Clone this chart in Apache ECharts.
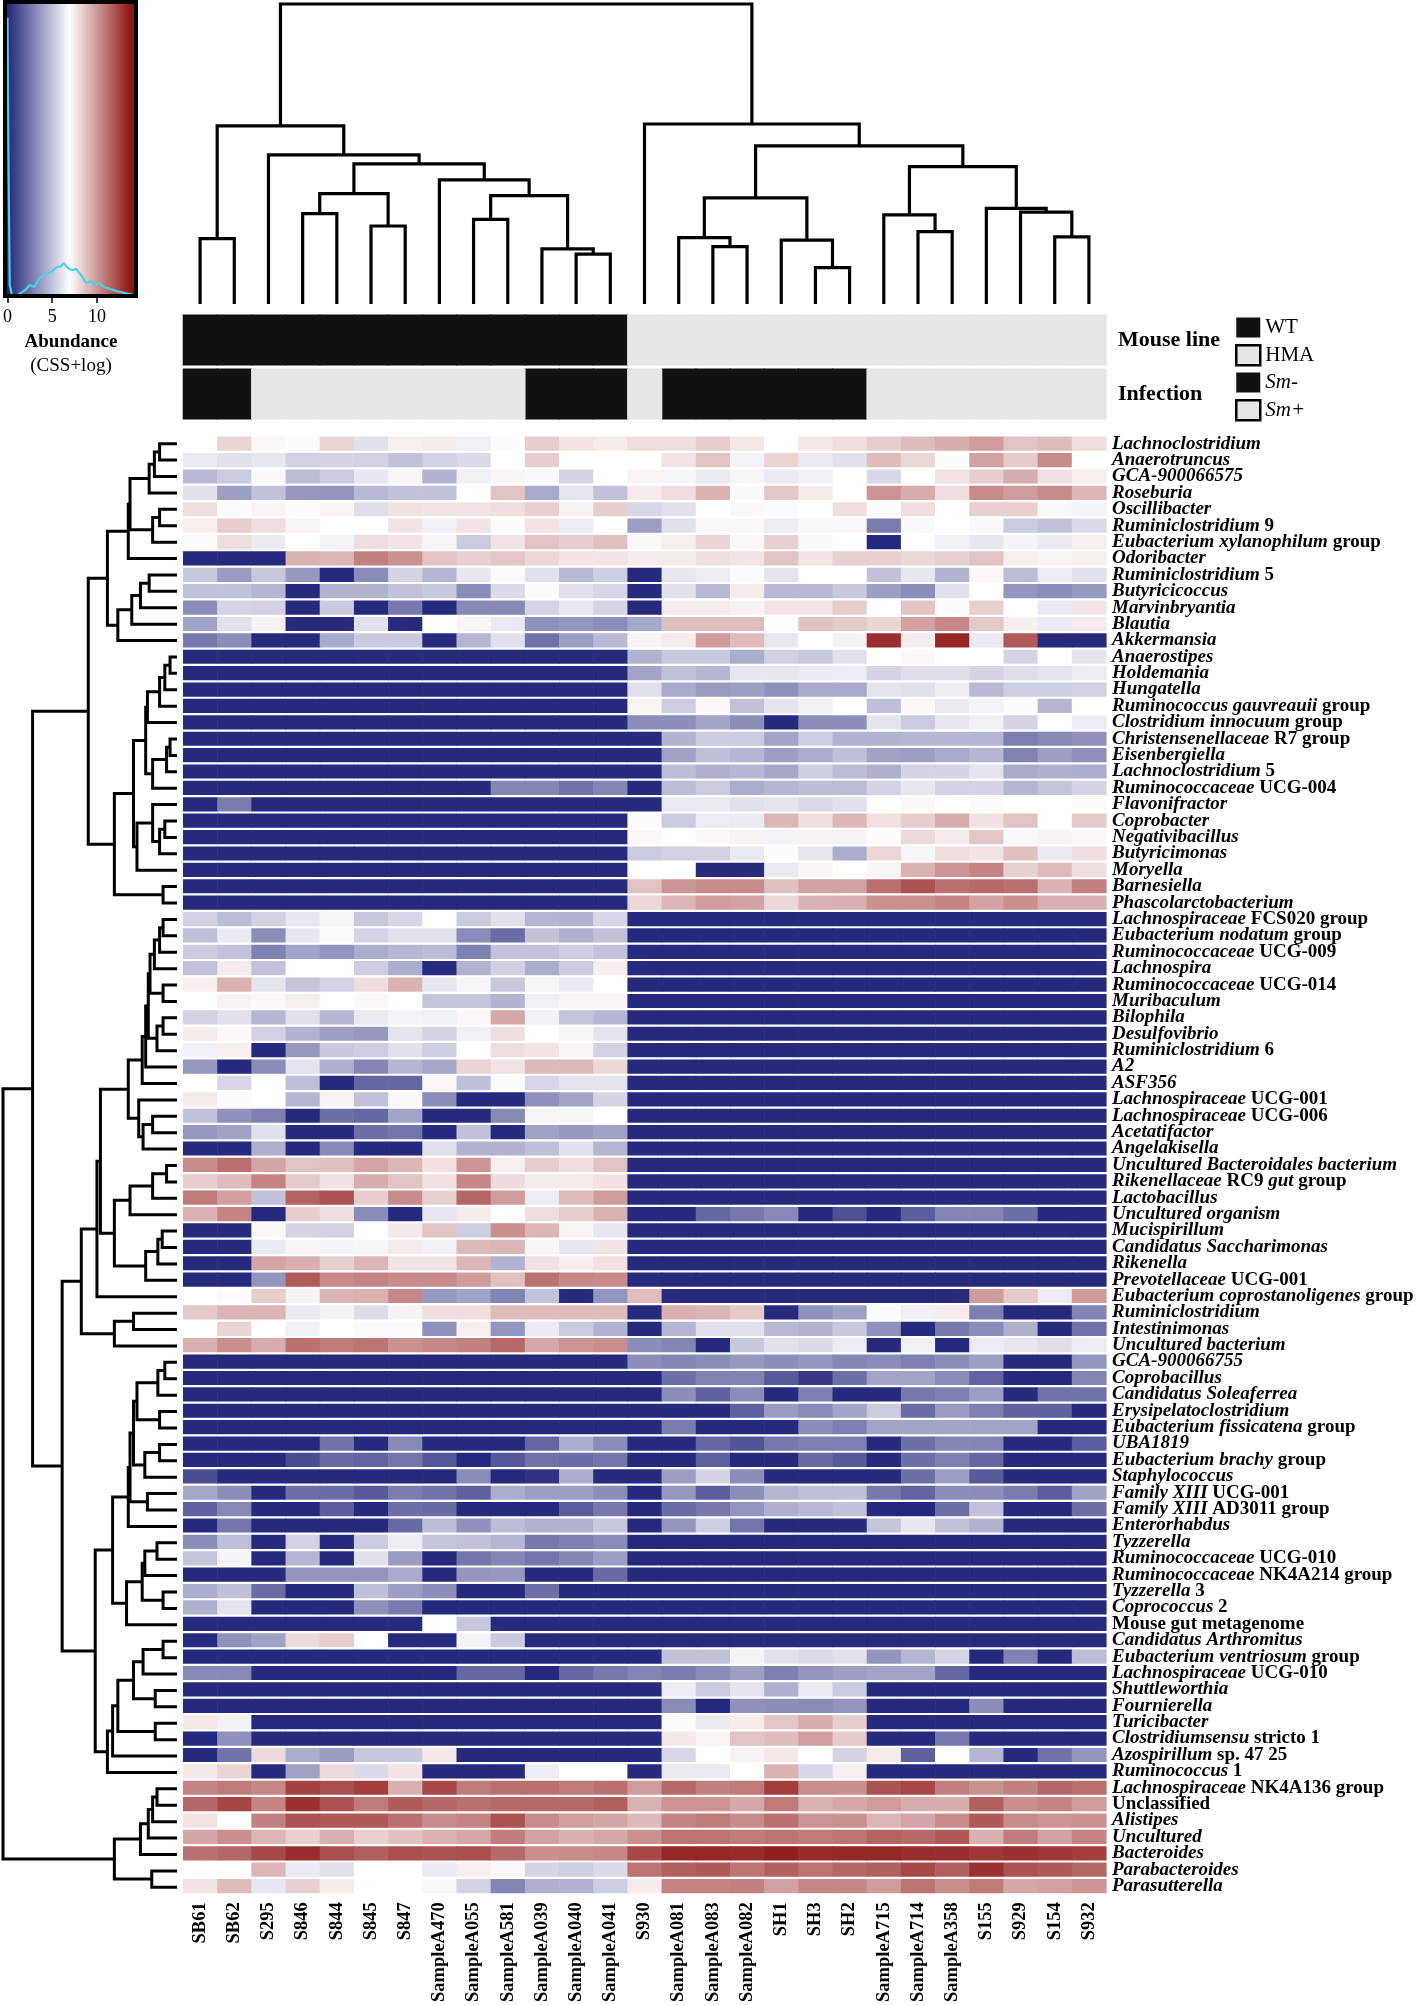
<!DOCTYPE html>
<html><head><meta charset="utf-8">
<script src="https://cdn.jsdelivr.net/npm/echarts@6/dist/echarts.min.js"></script>
<style>html,body{margin:0;padding:0;background:#fff}#c{width:1417px;height:2005px}</style>
</head><body><div id="c"></div>
<script>
// ---------------- data ----------------
const samples = ['SB61','SB62','S295','S846','S844','S845','S847','SampleA470','SampleA055','SampleA581','SampleA039','SampleA040','SampleA041','S930','SampleA081','SampleA083','SampleA082','SH1','SH3','SH2','SampleA715','SampleA714','SampleA358','S155','S929','S154','S932'];
const mouseLine = ['WT','WT','WT','WT','WT','WT','WT','WT','WT','WT','WT','WT','WT','HMA','HMA','HMA','HMA','HMA','HMA','HMA','HMA','HMA','HMA','HMA','HMA','HMA','HMA'];
const infection = ['Sm-','Sm-','Sm+','Sm+','Sm+','Sm+','Sm+','Sm+','Sm+','Sm+','Sm-','Sm-','Sm-','Sm+','Sm-','Sm-','Sm-','Sm-','Sm-','Sm-','Sm+','Sm+','Sm+','Sm+','Sm+','Sm+','Sm+'];
const annotationRows = ['Mouse line','Infection'];
const taxa = ['Lachnoclostridium','Anaerotruncus','GCA-900066575','Roseburia','Oscillibacter','Ruminiclostridium 9','Eubacterium xylanophilum group','Odoribacter','Ruminiclostridium 5','Butyricicoccus','Marvinbryantia','Blautia','Akkermansia','Anaerostipes','Holdemania','Hungatella','Ruminococcus gauvreauii group','Clostridium innocuum group','Christensenellaceae R7 group','Eisenbergiella','Lachnoclostridium 5','Ruminococcaceae UCG-004','Flavonifractor','Coprobacter','Negativibacillus','Butyricimonas','Moryella','Barnesiella','Phascolarctobacterium','Lachnospiraceae FCS020 group','Eubacterium nodatum group','Ruminococcaceae UCG-009','Lachnospira','Ruminococcaceae UCG-014','Muribaculum','Bilophila','Desulfovibrio','Ruminiclostridium 6','A2','ASF356','Lachnospiraceae UCG-001','Lachnospiraceae UCG-006','Acetatifactor','Angelakisella','Uncultured Bacteroidales bacterium','Rikenellaceae RC9 gut group','Lactobacillus','Uncultured organism','Mucispirillum','Candidatus Saccharimonas','Rikenella','Prevotellaceae UCG-001','Eubacterium coprostanoligenes group','Ruminiclostridium','Intestinimonas','Uncultured bacterium','GCA-900066755','Coprobacillus','Candidatus Soleaferrea','Erysipelatoclostridium','Eubacterium fissicatena group','UBA1819','Eubacterium brachy group','Staphylococcus','Family XIII UCG-001','Family XIII AD3011 group','Enterorhabdus','Tyzzerella','Ruminococcaceae UCG-010','Ruminococcaceae NK4A214 group','Tyzzerella 3','Coprococcus 2','Mouse gut metagenome','Candidatus Arthromitus','Eubacterium ventriosum group','Lachnospiraceae UCG-010','Shuttleworthia','Fournierella','Turicibacter','Clostridiumsensu stricto 1','Azospirillum sp. 47 25','Ruminococcus 1','Lachnospiraceae NK4A136 group','Unclassified','Alistipes','Uncultured','Bacteroides','Parabacteroides','Parasutterella'];

// abundance (CSS + log), one row per taxon, one column per sample
const abundance = [
[7,8.3,7.2,7.1,8.3,6,7.5,7.6,6.5,7.1,8.5,7.8,7.6,8,8,8.5,7.7,7,7.7,8,8.5,9,9.5,10,8.8,9,8],
[6.3,6,6.2,5.5,5.6,5.5,5,5.5,5.8,7,8.5,7,7,7,7.8,8.8,6.6,8.3,6.3,6,9,8.2,7.1,9.8,8.6,10.5,7],
[4.7,5.3,7.2,4.8,5.3,6.2,6.7,4.5,6.5,7.3,6.8,5.6,7,7.3,6.7,6.3,6.7,6.3,6.5,7,5.7,7,7.8,8.5,9.5,7.9,7.5],
[6,3.8,5,3.6,3.5,4.7,5,5,7,8.8,4.2,6.2,5,7.6,8,9.3,6.8,8.7,7.6,7,10.2,9.5,8,10.5,10,10.5,9.2],
[8,7.1,7.3,7.1,7.3,5.9,7.9,7.8,7.8,8,8.4,7.4,8.5,5.7,6,7,7.2,6.9,7,8,6.9,8,7,8.4,8.4,6.8,6.6],
[7.5,8.5,8,7.3,7,7,7.8,6.5,7.8,7.1,7.8,6.4,7,3.8,6,7.2,7.2,6.4,6.8,7.2,2.7,6.8,7,6.8,5.3,5,5.8],
[6.9,8,6.3,7,6.6,8,7.8,7.3,5.3,7.8,8.8,8.5,8.9,6.8,7.5,8.3,7.2,8.4,6.8,7,0,7,6.5,6.2,6.6,6.3,7.5],
[0,0,0,9.3,9.2,10.8,10.3,8.8,8.4,8.7,8.2,7.8,7.8,7.6,7.6,8,7.8,8.8,7.8,8.4,8.4,8.2,8.4,8.8,7.5,7.3,7.5],
[5.2,3.7,5.2,3.6,0,3.2,5.6,4.6,6.2,6.9,6,4.7,5.4,0,6.2,6.4,6.9,6.1,7,7,5,6.2,4.5,7.2,4.8,6.4,6],
[5,5,4.6,0,4.5,4.5,5,5.2,3.2,5.8,6.9,6,5.7,0,6,4.7,7.6,4.7,4.7,5.2,3.8,3.3,6,7,3.5,3.3,3.6],
[3.3,5.6,5.5,0,5.3,0,2.6,0,3.1,3.1,5.6,6.2,5.6,0,7.6,7.6,7.4,7.8,7.8,8.5,7,8.7,7.1,8.4,7,6.3,7.8],
[4,6,7.4,0,0,6,0,7,7.3,6.3,3.4,3.5,3.3,4.2,9,9,9,7,8.8,8.6,8.2,9.8,10.6,8.6,7.5,6.3,7.6],
[2.6,3.3,0,0,4.2,5.3,5.3,0,4.6,6,2.4,3.8,4.7,7.3,7.6,10,9,6.2,7,6.6,13.3,7.6,13.5,6.3,12,0,0],
[0,0,0,0,0,0,0,0,0,0,0,0,0,4.5,5.2,5.2,4.3,5.5,5.2,6,7,7.2,7,7,5.6,7,6.1],
[0,0,0,0,0,0,0,0,0,0,0,0,0,4,5,4.6,6.2,6.2,6.3,6.4,5.6,5.9,5.9,5.6,5.9,6.1,6.4],
[0,0,0,0,0,0,0,0,0,0,0,0,0,6,4.2,3.7,3.8,3.4,4.2,4.2,6.1,6,6.4,4.7,5.4,5.4,5.5],
[0,0,0,0,0,0,0,0,0,0,0,0,0,7.3,5.4,7.2,5,6.1,6.5,7,4.9,7.2,6.3,6.6,6.9,4.6,7],
[0,0,0,0,0,0,0,0,0,0,0,0,0,3.3,3.3,4,3.3,0,3.3,3.3,6.1,5.3,6.2,6.5,5.6,7,6.4],
[0,0,0,0,0,0,0,0,0,0,0,0,0,0,4.5,5.3,5.3,4,5.4,4.5,4.5,4.6,4.6,4.6,2.8,3.1,3.4],
[0,0,0,0,0,0,0,0,0,0,0,0,0,0,3.9,4.9,4.6,3.8,4.3,4.9,3.9,3.8,4.2,4.6,2.9,3.8,3.4],
[0,0,0,0,0,0,0,0,0,0,0,0,0,0,4.8,4.4,4.6,4.1,5.4,4.8,4.4,5.6,5.6,6.1,4.2,4.4,4.3],
[0,0,0,0,0,0,0,0,0,3,3,2.4,3,0,4.8,5.3,4.3,4.6,4.8,4.8,5.6,6.2,5.6,5.6,4.6,5.1,5.6],
[0,2.7,0,0,0,0,0,0,0,0,0,0,0,0,6.3,6.3,6,6.1,5.8,6,7,7.2,7,7.1,7,7,6.9],
[0,0,0,0,0,0,0,0,0,0,0,0,0,7.1,5.3,6.4,6.3,9.2,8,9.2,7.9,8.5,9.5,7.9,8.8,7,8.6],
[0,0,0,0,0,0,0,0,0,0,0,0,0,7.2,7,7.2,7.4,6.6,7.4,7.4,7.1,8.1,7.6,8.7,6.8,7.4,7.2],
[0,0,0,0,0,0,0,0,0,0,0,0,0,5.3,5.5,5.5,6.3,6.9,6.2,4.3,8.2,6.7,8,7.8,8.9,6.3,8],
[0,0,0,0,0,0,0,0,0,0,0,0,0,7,7,0,0,6.3,7.3,7,7.3,9.3,10.2,10.7,8.4,9,8],
[0,0,0,0,0,0,0,0,0,0,0,0,0,8.8,10.2,10.5,10.5,8.9,9.8,9.8,11.3,12.2,11.3,11.5,11.3,9.3,10.8],
[0,0,0,0,0,0,0,0,0,0,0,0,0,8.2,9.2,10,9.8,8.2,9.3,9.4,10.3,10.3,10.7,9.8,10.4,9.4,9.4],
[5.5,4.8,5.5,6.2,6.7,5.2,5.7,7,5.3,6,4.6,4.5,5.7,0,0,0,0,0,0,0,0,0,0,0,0,0,0],
[4.9,6.3,3.3,6.2,6.9,5.6,6,6,3.2,2.2,5,4.4,5,0,0,0,0,0,0,0,0,0,0,0,0,0,0],
[5.3,5,2.9,4,3.5,4.3,4.6,4.8,2.9,5,5,5.4,5,0,0,0,0,0,0,0,0,0,0,0,0,0,0],
[5,7.6,5,7,7,5.4,4.3,0,4.5,5.5,4.3,5.3,7.5,0,0,0,0,0,0,0,0,0,0,0,0,0,0],
[7.5,9.3,6.1,5.1,5.6,8,9.3,6.2,6.7,5.2,6.7,6.3,7,0,0,0,0,0,0,0,0,0,0,0,0,0,0],
[7,7.4,7.2,7.5,7,7.2,7,5.1,5.1,4.5,6.5,7.3,7.3,0,0,0,0,0,0,0,0,0,0,0,0,0,0],
[5.5,6,4.6,6,4.6,6.3,6.6,6.5,7.2,9.6,6.5,5.1,4.6,0,0,0,0,0,0,0,0,0,0,0,0,0,0],
[7.6,7.2,5.5,4.5,3.8,3.6,6.1,5.6,6.5,8,7,6.7,6.1,0,0,0,0,0,0,0,0,0,0,0,0,0,0],
[6.5,7.5,0,3.6,5.2,5.4,6,5.4,7,8,7.8,7.3,5.5,0,0,0,0,0,0,0,0,0,0,0,0,0,0],
[3.6,0,3.2,6.1,4.4,3,4.6,4.1,8.3,7.8,9.1,9.1,8.2,0,0,0,0,0,0,0,0,0,0,0,0,0,0],
[7,5.7,7,4.9,0,2,2,7.2,4.9,7.1,5.7,6.1,6.1,0,0,0,0,0,0,0,0,0,0,0,0,0,0],
[7.6,6.9,7,4.6,7.4,5,6.8,3.2,0,0,3.4,4,5.6,0,0,0,0,0,0,0,0,0,0,0,0,0,0],
[5,3.4,2.8,0,2.3,2,4,0,0,3.1,6.7,6.7,7,0,0,0,0,0,0,0,0,0,0,0,0,0,0],
[3.6,3.9,6,0,0,2.3,2.5,0,5,0,3.9,3.6,3.9,0,0,0,0,0,0,0,0,0,0,0,0,0,0],
[0,0,4.4,0,3.1,0,0,6,4.5,4.5,4.9,6,4.6,0,0,0,0,0,0,0,0,0,0,0,0,0,0],
[10.5,11.3,9.7,8.8,8.9,9.7,9.2,7.9,10.2,7.5,8.5,8,8.8,0,0,0,0,0,0,0,0,0,0,0,0,0,0],
[8.5,9,10.7,8.6,7.9,9.5,8.8,7.9,10.6,8.1,7.6,7.6,7.9,0,0,0,0,0,0,0,0,0,0,0,0,0,0],
[11,9.9,5,11.7,12.2,8.5,10.5,8.4,11.6,10,6.4,9,10,0,0,0,0,0,0,0,0,0,0,0,0,0,0],
[9.3,10.7,0,8.5,8,3.2,0,6.2,7.6,7,8,8.5,9.3,0,0,2,2.6,3.1,0,1.3,0,1.7,3,3,2.3,0,0],
[0,0,7.2,5.6,5.5,7,7.7,8.8,5.4,10.4,9.2,7.3,6.2,0,0,0,0,0,0,0,0,0,0,0,0,0,0],
[0,0,6.3,7.3,6.6,6.7,7.6,6.5,9.1,9.2,7.3,6.2,7.8,0,0,0,0,0,0,0,0,0,0,0,0,0,0],
[0,0,9.7,9.4,8.4,9.2,7.8,7.8,9.2,4.5,7.9,7.5,7.9,0,0,0,0,0,0,0,0,0,0,0,0,0,0],
[0,0,3.5,12,10.5,10.7,10.5,10.5,10,8.9,11.2,10.6,10.5,0,0,0,0,0,0,0,0,0,0,0,0,0,0],
[7,7.1,8.5,7.4,9.2,9.3,10.6,3.6,3.9,3,5,0,3.5,9,0,0,0,0,0,0,0,0,0,10,8.6,6.4,10],
[8.6,9.2,9.2,6.3,6.6,5.9,7.4,8,8,9,9,9,9,0,9.4,9.2,8.6,0,3.4,3.9,7.1,6.5,7.6,2.8,0,0,3],
[7,8.3,7,6.5,7,6.9,6.9,3.4,7.5,3.5,6.3,5.3,4.5,0,4.6,6,6,4.7,4.5,5.2,3.4,0,2.6,3.2,4.4,0,2.4],
[9.4,10.4,9.5,11.3,11,11.2,10.3,10.6,10.8,11.5,9.6,10.2,10.4,3.3,3,0,5.2,6,5.8,6.4,0,6.5,0,6.4,6.2,5.9,6.4],
[0,0,0,0,0,0,0,0,0,0,0,0,0,3.3,3,3.3,3.6,3.3,3.5,3,3.2,2.8,3.3,3.8,0,0,3.5],
[0,0,0,0,0,0,0,0,0,0,0,0,0,0,2.3,2.9,2.9,1.6,0.5,2.3,4,4,3.2,1.9,0,0,3],
[0,0,0,0,0,0,0,0,0,0,0,0,0,0,3.3,1.8,3.2,0,2.8,0,0,2.6,2.8,3.8,0,2.4,2.4],
[0,0,0,0,0,0,0,0,0,0,0,0,0,0,0,0,1.8,3.7,3.2,4,5.3,2.2,3.7,2.8,1.8,1.8,0],
[0,0,0,0,0,0,0,0,0,0,0,0,0,0,2.7,0,0,0,3.3,2.8,4,4,4,4,4,0,0],
[0,0,0,0,2.4,0,3.1,0,0,0,2,4.3,3.2,0,0,2,1.4,2.6,2.8,2.8,0,2.3,3,3,0,0,1.7],
[0,0,0,1.2,2.1,1.9,2.5,1.5,0,1.5,2.4,2.2,2.5,0,0,1.8,0,0,2.1,1.6,0,2.3,2.8,2,0,0,0],
[1.2,0,0,0,0,0,0,0,3.2,0,0.3,4.3,0,0,3.8,5.6,3.3,0,0,0,0,2.3,3.8,1.6,0,0,0],
[4.1,3.3,0,2.3,2.2,1.6,2.7,2.4,1.8,4.3,3.8,3.8,3.3,0,3.6,1.7,3.3,4.6,4.9,4.9,2.6,1.9,3.3,3.3,2.7,1.7,3.9],
[1.8,3.1,0,0,1.7,0,2.3,2.1,0,0,0,1.7,2.6,0,2.2,2.6,3.5,4.4,4.7,5,0,0,2.3,5,0,0,2.3],
[0,2.5,0,0,0,0,2.1,4.8,3.4,4.8,4.5,4.5,5.2,0,3.5,5.4,2.5,0,0,0,5.1,6.2,5,4.5,0,0,0],
[3.3,4.9,0,5.5,0,5.3,6.4,5.1,5,4.6,2.6,2.8,3.2,0,0,0,0,0,0,0,0,0,0,0,0,0,0],
[5.1,6.6,0,4.6,0,6,3.7,0,2.5,3,2.5,3,3.8,0,0,0,0,0,0,0,0,0,0,0,0,0,0],
[0,0,0,3.5,3.5,3.5,4.2,0,3.5,3.6,0,0,2.1,0,0,0,0,0,0,0,0,0,0,0,0,0,0],
[4.3,4.9,2.2,0,0,4.9,3.8,3.3,0,0,2.3,0,0,0,0,0,0,0,0,0,0,0,0,0,0,0,0],
[4.4,6.1,0,0,0,3.4,2.7,0,0,0,0,0,0,0,0,0,0,0,0,0,0,0,0,0,0,0,0],
[0,0,0,0,0,0,0,7,5.2,0,0,0,0,0,0,0,0,0,0,0,0,0,0,0,0,0,0],
[0,3.4,3.9,8.1,8.5,7,0,0,6.6,5.3,0,0,0,0,0,0,0,0,0,0,0,0,0,0,0,0,0],
[0,0,0,0,0,0,0,0,0,0,0,0,0,0,5,5,6.6,6,5.8,6,3.5,4.6,5.6,0,2.9,0,4.8],
[3.1,3.1,0,0,0,0,0,0,2,2,0,2,2.6,3,2.7,3.3,3.8,2.8,3.5,3.8,4,4,2,0,0,0,0],
[0,0,0,0,0,0,0,0,0,0,0,0,0,0,6.4,5.3,6.1,4.4,6.3,5.3,0,0,0,0,0,0,0],
[0,0,0,0,0,0,0,0,0,0,0,0,0,0,3.2,0,3.4,3.3,3.2,3.5,0,0,0,3.3,0,0,0],
[7.7,6.5,0,0,0,0,0,0,0,0,0,0,0,0,7.1,6.3,7.6,8.7,9.5,8.5,0,0,0,0,0,0,0],
[0,3.4,0,0,0,0,0,0,0,0,0,0,0,0,7.7,7.3,8.8,9,9.9,8.6,0,0,2.6,0,0,0,0],
[0,2.4,8.1,4.3,3.7,5.2,5.2,7.7,0,0,0,0,0,0,5.7,7,7.4,7.7,7,5.6,7.6,1.8,7,4.6,0,2.4,3.5],
[7.7,8.3,0,3.9,8.1,5.8,7.8,0,0,0,6.4,7,7,0,6.3,6.3,7,9.3,5.7,7.5,0,0,0,0,0,0,0],
[10.7,11,10.6,12.7,12.3,12.8,9.4,12.5,11,11.3,11.3,11,11.3,10,11.5,10.8,11,12.8,10.4,10.4,12.2,12.5,10.8,10.3,10.8,11.6,11.4],
[11.6,12.6,10.7,13.2,12.2,11,11.9,11.6,11.3,11.5,11.5,11.5,11.8,9.3,10.2,10.2,9.6,11,9.3,9.6,10,9.5,9.5,11.8,10.4,10.7,10],
[7.8,7,10.8,12.2,12,12,11.3,10.5,10.7,12.2,10.5,9.9,9.7,9.1,10.7,11,10.5,11.3,10.2,10.3,9.2,9.7,10.5,12,10.5,10.2,10.3],
[9.7,10.4,9.2,8.4,9.4,8.4,8.9,9.3,9.6,10.9,9.8,9.4,9.6,10.3,11.2,11.2,11,11.2,11,11.2,11.7,11.5,12,9.4,10.9,9.8,10.7],
[11.3,11.6,12.5,13.3,12.3,11.8,12.3,12.2,12.3,11.5,10.4,10.5,10.6,12.5,13.5,13.5,13.4,13.8,13.4,13.5,13.5,13.3,13.3,13,13.2,13,12.8],
[7,7,9.2,6.3,6,7,7,6.3,7.5,7.2,5.6,5.4,5.8,11.2,11.8,12,11.2,11.8,11.2,11.6,11.8,12.5,11.8,13.2,12.2,12,11.6],
[7.8,9,6.2,8.4,7.6,7,7,6.8,5.6,3,4.4,4.5,5.4,7.6,10.7,10.7,10.8,9.8,10.6,10.6,10,11.2,10.4,11,9.6,9.8,10.2]
];

// density curve drawn inside the colour key
const densityX = [0,0.1,0.25,0.5,1,1.5,2,2.5,3,3.5,4,4.3,5,5.5,6,6.3,6.8,7.2,7.7,8.3,8.8,9.3,9.8,10.3,10.8,11.5,12.2,13,13.7,14.3];
const densityY = [0.94,0.5,0.044,0.01,0.007,0.017,0.027,0.044,0.037,0.064,0.074,0.08,0.09,0.104,0.107,0.117,0.1,0.094,0.097,0.074,0.05,0.057,0.044,0.05,0.037,0.03,0.023,0.017,0.013,0.007];
const keyTicks = [0, 5, 10];

// column (sample) dendrogram: [height, left, right], leaves = column index
const c01 = [21.8, 0, 1];
const c34 = [30.1, 3, 4];
const c56 = [26, 5, 6];
const c3_6 = [36.8, c34, c56];
const c89 = [28.2, 8, 9];
const c11_12 = [16.6, 11, 12];
const c10_12 = [18.4, 10, c11_12];
const c8_12 = [36.1, c89, c10_12];
const c7_12 = [41.4, 7, c8_12];
const c3_12 = [46.7, c3_6, c7_12];
const c2_12 = [49.7, 2, c3_12];
const cLeft = [59.4, c01, c2_12];
const c15_16 = [19.1, 15, 16];
const c14_16 = [22.1, 14, c15_16];
const c18_19 = [12.1, 18, 19];
const c17_19 = [21.3, 17, c18_19];
const c14_19 = [35.4, c14_16, c17_19];
const c21_22 = [24.1, 21, 22];
const c20_22 = [29.7, 20, c21_22];
const c25_26 = [22.4, 25, 26];
const c24_26 = [30.6, 24, c25_26];
const c23_26 = [31.9, 23, c24_26];
const c20_26 = [45.8, c20_22, c23_26];
const c14_26 = [52.7, c14_19, c20_26];
const cRight = [60, 13, c14_26];
const colTree = [100, cLeft, cRight];

// row (taxon) dendrogram: [height, upper, lower], leaves = row index
const r0_1 = [10, 0, 1];
const r0_2 = [13, r0_1, 2];
const r0_3 = [16, r0_2, 3];
const r4_5 = [10, 4, 5];
const r4_6 = [14, r4_5, 6];
const r0_6 = [27, r0_3, r4_6];
const r0_7 = [28, r0_6, 7];
const r8_9 = [16, 8, 9];
const r8_10 = [21, r8_9, 10];
const r8_11 = [26, r8_10, 11];
const r8_12 = [34, r8_11, 12];
const r0_12 = [40, r0_7, r8_12];
const r13_14 = [4, 13, 14];
const r13_15 = [7, r13_14, 15];
const r13_16 = [10, r13_15, 16];
const r13_17 = [17, r13_16, 17];
const r18_19 = [4, 18, 19];
const r18_20 = [6, r18_19, 20];
const r18_21 = [14, r18_20, 21];
const r13_21 = [18, r13_17, r18_21];
const r23_24 = [7, 23, 24];
const r23_25 = [10, r23_24, 25];
const r22_25 = [14, 22, r23_25];
const r22_26 = [23, r22_25, 26];
const r13_26 = [25, r13_21, r22_26];
const r27_28 = [8, 27, 28];
const r13_28 = [36, r13_26, r27_28];
const r0_28 = [51, r0_12, r13_28];
const r29_30 = [8, 29, 30];
const r29_31 = [10, r29_30, 31];
const r29_32 = [13, r29_31, 32];
const r33_34 = [8, 33, 34];
const r29_34 = [15.5, r29_32, r33_34];
const r35_36 = [8, 35, 36];
const r35_37 = [11.5, r35_36, 37];
const r29_37 = [16.5, r29_34, r35_37];
const r29_38 = [18, r29_37, 38];
const r29_39 = [20, r29_38, 39];
const r41_42 = [14, 41, 42];
const r41_43 = [19.5, r41_42, 43];
const r40_43 = [22, 40, r41_43];
const r29_43 = [28, r29_39, r40_43];
const r44_45 = [6, 44, 45];
const r44_46 = [14, r44_45, 46];
const r44_47 = [27, r44_46, 47];
const r48_49 = [8.5, 48, 49];
const r48_50 = [11, r48_49, 50];
const r48_51 = [18, r48_50, 51];
const r44_51 = [36, r44_47, r48_51];
const r29_51 = [44, r29_43, r44_51];
const r29_52 = [46, r29_51, 52];
const r53_54 = [25, 53, 54];
const r53_55 = [36, r53_54, 55];
const r29_55 = [55, r29_52, r53_55];
const r56_57 = [7, 56, 57];
const r56_58 = [11, r56_57, 58];
const r59_60 = [10, 59, 60];
const r56_60 = [23, r56_58, r59_60];
const r61_62 = [10, 61, 62];
const r61_63 = [18.5, r61_62, 63];
const r56_63 = [25, r56_60, r61_63];
const r64_65 = [17, 64, 65];
const r56_65 = [27, r56_63, r64_65];
const r56_66 = [28, r56_65, 66];
const r67_68 = [11.5, 67, 68];
const r67_69 = [18.5, r67_68, 69];
const r70_71 = [8, 70, 71];
const r67_71 = [20, r67_69, r70_71];
const r67_72 = [29, r67_71, 72];
const r56_72 = [37, r56_66, r67_72];
const r73_74 = [8, 73, 74];
const r73_75 = [19.5, r73_74, 75];
const r76_77 = [12.5, 76, 77];
const r73_77 = [25, r73_75, r76_77];
const r78_79 = [12.5, 78, 79];
const r73_79 = [34, r73_77, r78_79];
const r73_80 = [37, r73_79, 80];
const r73_81 = [40, r73_80, 81];
const r56_81 = [47, r56_72, r73_81];
const r29_81 = [66, r29_55, r56_81];
const r0_81 = [83, r0_28, r29_81];
const r82_83 = [11.5, 82, 83];
const r82_84 = [14, r82_83, 84];
const r82_85 = [16.5, r82_84, 85];
const r82_86 = [21, r82_85, 86];
const r87_88 = [14.5, 87, 88];
const r82_88 = [36, r82_86, r87_88];
const rowTree = [100, r0_81, r82_88];

// ---------------- build ----------------
const SERIF = '"Liberation Serif","Times New Roman",serif';
const scaleColors = ['#262a7c', '#ffffff', '#8f1616'];
const scaleMin = 0, scaleMax = 14;

function layoutTree(node, segs) {
  if (typeof node === 'number') return { pos: node, h: 0 };
  const a = layoutTree(node[1], segs);
  const b = layoutTree(node[2], segs);
  segs.push([a.pos, a.h, b.pos, b.h, node[0]]);
  return { pos: (a.pos + b.pos) / 2, h: node[0] };
}
const colSegs = []; layoutTree(colTree, colSegs);
const rowSegs = []; layoutTree(rowTree, rowSegs);

const heatData = [];
abundance.forEach((row, r) => row.forEach((v, c) => heatData.push([c, r, v])));

const annoData = { 'WT': [], 'HMA': [], 'Sm-': [], 'Sm+': [] };
mouseLine.forEach((g, i) => annoData[g].push([i, 0]));
infection.forEach((g, i) => annoData[g].push([i, 1]));
const annoColor = { 'WT': '#111111', 'HMA': '#e6e6e6', 'Sm-': '#111111', 'Sm+': '#e6e6e6' };

function renderCell(params, api) {
  const c = api.coord([api.value(0), api.value(1)]);
  const s = api.size([1, 1]);
  return { type: 'rect', shape: { x: c[0] - s[0] / 2, y: c[1] - s[1] / 2 + 1.1, width: s[0] + 0.6, height: s[1] - 2.2 },
    style: { fill: api.visual('color') } };
}
function renderAnno(params, api) {
  const c = api.coord([api.value(0), api.value(1)]);
  const s = api.size([1, 1]);
  return { type: 'rect', shape: { x: c[0] - s[0] / 2 - 0.3, y: c[1] - s[1] / 2 + 1.5, width: s[0] + 1, height: s[1] - 3 },
    style: { fill: api.visual('color') } };
}
function renderColSeg(params, api) {
  const pts = [
    api.coord([api.value(0), api.value(1)]),
    api.coord([api.value(0), api.value(4)]),
    api.coord([api.value(2), api.value(4)]),
    api.coord([api.value(2), api.value(3)])
  ];
  return { type: 'polyline', shape: { points: pts }, style: { stroke: '#000', lineWidth: 3.2, fill: null } };
}
function renderRowSeg(params, api) {
  const pts = [
    api.coord([api.value(1), api.value(0)]),
    api.coord([api.value(4), api.value(0)]),
    api.coord([api.value(4), api.value(2)]),
    api.coord([api.value(3), api.value(2)])
  ];
  return { type: 'polyline', shape: { points: pts }, style: { stroke: '#000', lineWidth: 3, fill: null } };
}

const uprightWord = /^(group|UCG-\d+|R7|RC9|FCS020|NK4A136|NK4A214|AD3011|sp\.|\d+|sensu|stricto)$/;
const uprightLabels = ['Unclassified', 'Mouse gut metagenome'];
function taxonLabel(v) {
  if (uprightLabels.indexOf(v) >= 0) return '{u|' + v + '}';
  return v.split(' ').map(w => (uprightWord.test(w) ? '{u|' : '{i|') + w + '}').join('{i| }');
}

const keyOff = v => (v + 0.4) / 15;
const LABEL_SIZE = 19;

const chart = echarts.init(document.getElementById('c'), null, { renderer: 'canvas', width: 1417, height: 2005 });
chart.setOption({
  animation: false,
  backgroundColor: '#ffffff',
  grid: [
    { left: 183, top: 435.5, width: 923, height: 1460 },
    { left: 183, top: 4, width: 923, height: 300 },
    { left: 3, top: 435.5, width: 174, height: 1460 },
    { left: 183, top: 313, width: 923, height: 108 },
    { left: 3, top: 0, width: 135, height: 298 }
  ],
  xAxis: [
    { type: 'category', gridIndex: 0, data: samples, position: 'bottom',
      axisLine: { show: false }, axisTick: { show: false }, splitLine: { show: false },
      axisLabel: { interval: 0, rotate: 90, margin: 8, fontFamily: SERIF, fontWeight: 'bold', fontSize: 18.5, color: '#000' } },
    { type: 'value', gridIndex: 1, min: -0.5, max: 26.5, show: false },
    { type: 'value', gridIndex: 2, min: 0, max: 100, inverse: true, show: false },
    { type: 'category', gridIndex: 3, data: samples, show: false },
    { type: 'value', gridIndex: 4, min: -0.4, max: 14.6, splitLine: { show: false },
      axisLine: { show: false },
      axisTick: { show: true, customValues: keyTicks, length: 5, lineStyle: { color: '#000', width: 1.5 } },
      axisLabel: { customValues: keyTicks, margin: 10, fontFamily: SERIF, fontSize: 18, color: '#000' } }
  ],
  yAxis: [
    { type: 'category', gridIndex: 0, data: taxa, inverse: true, position: 'right',
      axisLine: { show: false }, axisTick: { show: false }, splitLine: { show: false },
      axisLabel: { interval: 0, margin: 6, formatter: taxonLabel, fontFamily: SERIF, fontSize: LABEL_SIZE, fontWeight: 'bold', fontStyle: 'italic', color: '#000',
        rich: {
          i: { fontFamily: SERIF, fontSize: LABEL_SIZE, fontWeight: 'bold', fontStyle: 'italic', color: '#000' },
          u: { fontFamily: SERIF, fontSize: LABEL_SIZE, fontWeight: 'bold', fontStyle: 'normal', color: '#000' }
        } } },
    { type: 'value', gridIndex: 1, min: 0, max: 100, show: false },
    { type: 'value', gridIndex: 2, min: -0.5, max: 88.5, inverse: true, show: false },
    { type: 'category', gridIndex: 3, data: annotationRows, inverse: true, position: 'right',
      axisLine: { show: false }, axisTick: { show: false },
      axisLabel: { margin: 12, fontFamily: SERIF, fontSize: 22, fontWeight: 'bold', color: '#000' } },
    { type: 'value', gridIndex: 4, min: 0, max: 1, show: false }
  ],
  visualMap: [{ type: 'continuous', show: false, seriesIndex: 0, dimension: 2, min: scaleMin, max: scaleMax, inRange: { color: scaleColors } }],
  legend: [
    { data: [{ name: 'WT', itemStyle: { color: '#111111' } }, { name: 'HMA', itemStyle: { color: '#e6e6e6', borderColor: '#000', borderWidth: 2.5 } }],
      left: 1235, top: 317, padding: 0, orient: 'vertical', icon: 'rect', itemWidth: 24, itemHeight: 20, itemGap: 6, selectedMode: false,
      textStyle: { fontFamily: SERIF, fontSize: 21, lineHeight: 21, color: '#000' } },
    { data: [{ name: 'Sm-', itemStyle: { color: '#111111' } }, { name: 'Sm+', itemStyle: { color: '#e6e6e6', borderColor: '#000', borderWidth: 2.5 } }],
      left: 1235, top: 372, padding: 0, orient: 'vertical', icon: 'rect', itemWidth: 24, itemHeight: 20, itemGap: 6, selectedMode: false,
      textStyle: { fontFamily: SERIF, fontSize: 21, lineHeight: 21, fontStyle: 'italic', color: '#000' } }
  ],
  series: [
    { type: 'custom', name: 'abundance', xAxisIndex: 0, yAxisIndex: 0, data: heatData, encode: { x: 0, y: 1 }, renderItem: renderCell },
    { type: 'custom', name: 'sample tree', xAxisIndex: 1, yAxisIndex: 1, data: colSegs, encode: { x: [0, 2], y: [1, 3, 4] }, renderItem: renderColSeg, silent: true },
    { type: 'custom', name: 'taxon tree', xAxisIndex: 2, yAxisIndex: 2, data: rowSegs, encode: { x: [1, 3, 4], y: [0, 2] }, renderItem: renderRowSeg, silent: true },
    ...['WT', 'HMA', 'Sm-', 'Sm+'].map(g => ({
      type: 'custom', name: g, xAxisIndex: 3, yAxisIndex: 3, data: annoData[g], encode: { x: 0, y: 1 },
      itemStyle: { color: annoColor[g] }, renderItem: renderAnno
    })),
    { type: 'line', name: 'density', xAxisIndex: 4, yAxisIndex: 4, z: 5, symbol: 'none',
      data: densityX.map((x, i) => [x, densityY[i]]), lineStyle: { color: '#4cd2e2', width: 2.2 } }
  ],
  graphic: [
    { type: 'rect', z: 1, shape: { x: 5, y: 2, width: 131, height: 294 },
      style: { fill: new echarts.graphic.LinearGradient(0, 0, 1, 0, [
        { offset: 0, color: scaleColors[0] },
        { offset: keyOff(scaleMin), color: scaleColors[0] },
        { offset: keyOff((scaleMin + scaleMax) / 2), color: scaleColors[1] },
        { offset: keyOff(scaleMax), color: scaleColors[2] },
        { offset: 1, color: scaleColors[2] }
      ]) } },
    { type: 'rect', z: 100, shape: { x: 5, y: 2, width: 131, height: 294 }, style: { fill: null, stroke: '#000', lineWidth: 4 } },
    { type: 'text', x: 71, y: 342, style: { text: 'Abundance', font: 'bold 19px ' + SERIF, fill: '#000', textAlign: 'center', textVerticalAlign: 'middle' } },
    { type: 'text', x: 71, y: 366, style: { text: '(CSS+log)', font: '19px ' + SERIF, fill: '#000', textAlign: 'center', textVerticalAlign: 'middle' } }
  ]
});
</script>
</body></html>
